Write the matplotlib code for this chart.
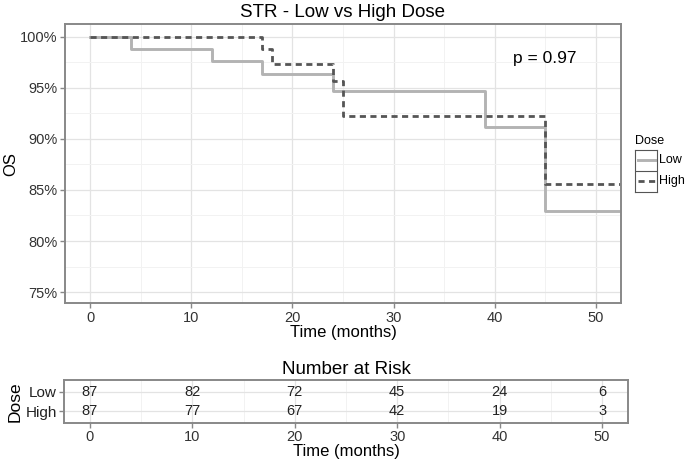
import matplotlib
matplotlib.use('Agg')
import matplotlib.pyplot as plt
from matplotlib.ticker import MultipleLocator

plt.rcParams['font.family'] = ['Liberation Sans', 'DejaVu Sans']

# survival curves (time in months, OS in %)
low_time = [0, 4, 12, 17, 24, 39, 45, 52.5]
low_surv = [100, 98.85, 97.62, 96.34, 94.68, 91.12, 82.9, 82.9]
high_time = [0, 17, 18, 24, 25, 45, 52.5]
high_surv = [100, 98.8, 97.3, 95.66, 92.23, 85.63, 85.63]

# number at risk table
risk_times = [0, 10, 20, 30, 40, 50]
risk_low = [87, 82, 72, 45, 24, 6]
risk_high = [87, 77, 67, 42, 19, 3]

x_ticks = [0, 10, 20, 30, 40, 50]
y_ticks = [75, 80, 85, 90, 95, 100]
y_labels = ['75%', '80%', '85%', '90%', '95%', '100%']
p_text = 'p = 0.97'

low_col = '#b3b3b3'
high_col = '#555555'
border_col = '#888888'
W, H = 687, 465

fig = plt.figure(figsize=(W / 100, H / 100), dpi=100)


def style_axes(ax):
    for s in ax.spines.values():
        s.set_color(border_col)
        s.set_linewidth(1.4)
    ax.grid(which='major', color='#e3e3e3', linewidth=0.9)
    ax.grid(which='minor', color='#f2f2f2', linewidth=0.7)
    ax.set_axisbelow(True)
    ax.tick_params(which='major', color=border_col, length=3.5, width=1,
                   labelsize=10.5, labelcolor='#333333', pad=2)
    ax.tick_params(which='minor', length=0)


# main KM plot
ax = fig.add_axes([65 / W, 1 - 303.3 / H, (621 - 65) / W, (303.3 - 24) / H])
ax.step(low_time, low_surv, where='post', color=low_col, linewidth=2.1, label='Low')
ax.step(high_time, high_surv, where='post', color=high_col, linewidth=2.0,
        linestyle=(0, (2.2, 1.6)), label='High')
ax.set_xlim(-2.5, 52.5)
ax.set_ylim(73.9, 101.25)
ax.set_xticks(x_ticks)
ax.xaxis.set_minor_locator(MultipleLocator(5))
ax.set_yticks(y_ticks)
ax.set_yticklabels(y_labels)
ax.yaxis.set_minor_locator(MultipleLocator(2.5))
style_axes(ax)
ax.set_title('STR - Low vs High Dose', fontsize=13.5, pad=5)
ax.set_xlabel('Time (months)', fontsize=12, labelpad=0)
ax.set_ylabel('OS', fontsize=12, labelpad=1)
ax.text(45, 97.9, p_text, fontsize=12.5, ha='center', va='center')

# legend drawn as ggplot-style keys
lax = fig.add_axes([635.3 / W, 1 - 191.7 / H, 22 / W, 41.7 / H])
lax.set_xlim(0, 1)
lax.set_ylim(0, 2)
lax.plot([0.1, 0.9], [1.5, 1.5], color=low_col, linewidth=2.1)
lax.plot([0.1, 0.9], [0.5, 0.5], color=high_col, linewidth=2.0,
         linestyle=(0, (2.2, 1.6)))
lax.axhline(1, color='#555555', linewidth=0.8)
lax.set_xticks([])
lax.set_yticks([])
for s in lax.spines.values():
    s.set_color('#555555')
    s.set_linewidth(0.8)
lax.text(1.1, 1.5, 'Low', fontsize=9, va='center', ha='left')
lax.text(1.1, 0.5, 'High', fontsize=9, va='center', ha='left')
lax.text(0.0, 2.45, 'Dose', fontsize=9, va='center', ha='left')

# number at risk table
ax2 = fig.add_axes([64.3 / W, 1 - 422.7 / H, (627.7 - 64.3) / W, (422.7 - 380) / H])
for t, n in zip(risk_times, risk_low):
    ax2.text(t, 2, str(n), ha='center', va='center', fontsize=10.5, color='#222222')
for t, n in zip(risk_times, risk_high):
    ax2.text(t, 1, str(n), ha='center', va='center', fontsize=10.5, color='#222222')
ax2.set_xlim(-2.5, 52.5)
ax2.set_ylim(0.4, 2.6)
ax2.set_xticks(x_ticks)
ax2.xaxis.set_minor_locator(MultipleLocator(5))
ax2.set_yticks([1, 2])
ax2.set_yticklabels(['High', 'Low'])
style_axes(ax2)
ax2.tick_params(axis='y', labelsize=11, labelcolor='#222222')
ax2.set_title('Number at Risk', fontsize=13.5, pad=4)
ax2.set_xlabel('Time (months)', fontsize=12, labelpad=0)
ax2.set_ylabel('Dose', fontsize=12.5, labelpad=2)

fig.savefig('out.png', dpi=100)
